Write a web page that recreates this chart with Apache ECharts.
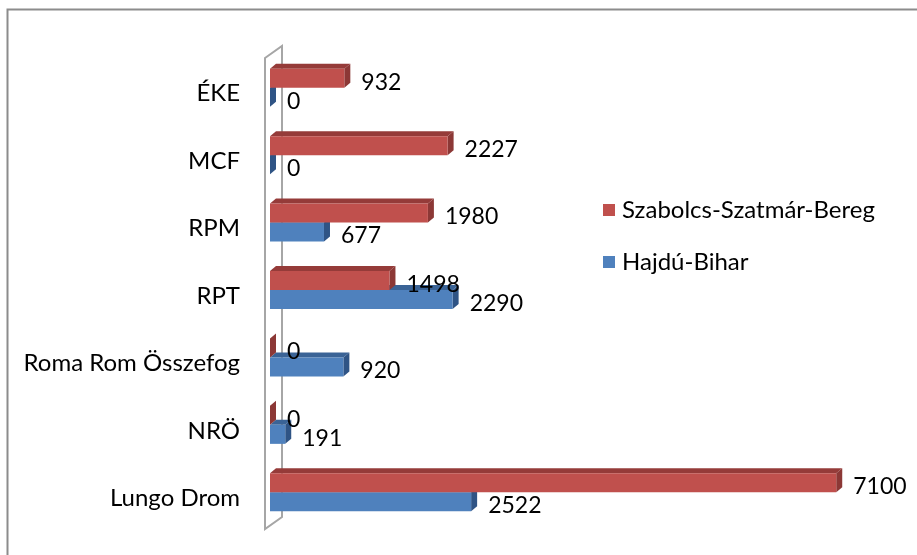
<!DOCTYPE html>
<html>
<head>
<meta charset="utf-8">
<script src="https://cdn.jsdelivr.net/npm/echarts@6/dist/echarts.min.js"></script>
<style>
  html, body { margin: 0; padding: 0; background: #fff; }
  #chart { width: 917px; height: 555px; }
</style>
</head>
<body>
<div id="chart"></div>
<script>
// categories, top to bottom
var categories = ['ÉKE', 'MCF', 'RPM', 'RPT', 'Roma Rom Összefog', 'NRÖ', 'Lungo Drom'];
var szabolcs = [932, 2227, 1980, 1498, 0, 0, 7100];
var hajdu = [0, 0, 677, 2290, 920, 191, 2522];
var seriesNames = ['Szabolcs-Szatmár-Bereg', 'Hajdú-Bihar'];

var chart = echarts.init(document.getElementById('chart'));

var BAR_H = 19, DX = 6, DY = -5;

// 3d-ish bar: front face + top face + side face + value label
function bar3d(upper, front, top, side) {
  return function (params, api) {
    var v = api.value(0);
    var idx = api.value(1);
    var end = api.coord([v, idx]);
    var start = api.coord([0, idx]);
    var y0 = upper ? end[1] - BAR_H : end[1];
    var y1 = y0 + BAR_H;
    var x0 = start[0], x1 = end[0];
    return {
      type: 'group',
      children: [
        { type: 'polygon', shape: { points: [[x0, y0], [x0 + DX, y0 + DY], [x1 + DX, y0 + DY], [x1, y0]] },
          style: { fill: top } },
        { type: 'polygon', shape: { points: [[x1, y0], [x1 + DX, y0 + DY], [x1 + DX, y1 + DY], [x1, y1]] },
          style: { fill: side } },
        { type: 'rect', shape: { x: x0, y: y0, width: x1 - x0, height: BAR_H },
          style: { fill: front } },
        { type: 'text', x: x1 + 17, y: (y0 + y1) / 2 + 4, z2: 10,
          style: { text: String(v), fill: '#000', font: '23px Lato', verticalAlign: 'middle', align: 'left' } }
      ]
    };
  };
}

function toData(arr) {
  return arr.map(function (v, i) { return [v, i]; });
}

var option = {
  animation: false,
  grid: { left: 270, right: 9, top: 54, bottom: 29, containLabel: false },
  legend: {
    orient: 'vertical',
    left: 598,
    top: 193,
    itemWidth: 12,
    itemHeight: 12,
    itemGap: 28,
    icon: 'rect',
    data: [seriesNames[0], seriesNames[1]],
    textStyle: { fontFamily: 'Lato', fontSize: 24, color: '#000', lineHeight: 24, padding: [0, 0, 0, 2] }
  },
  xAxis: {
    type: 'value',
    min: 0,
    max: 8000,
    show: false
  },
  yAxis: {
    type: 'category',
    data: categories,
    inverse: true,
    axisLine: { show: false },
    axisTick: { show: false },
    axisLabel: { margin: 30, fontFamily: 'Lato', fontSize: 24, color: '#000', verticalAlign: 'top', lineHeight: 12 }
  },
  graphic: [
    { type: 'rect', shape: { x: 7.5, y: 9.5, width: 940, height: 580 },
      style: { fill: 'none', stroke: '#8c8c8c', lineWidth: 2 }, silent: true },
    { type: 'polygon', shape: { points: [[265, 58], [282, 46], [282, 517], [265, 529]] },
      style: { fill: 'none', stroke: '#a6a6a6', lineWidth: 2 }, z: -1, silent: true }
  ],
  series: [
    {
      name: seriesNames[1],
      type: 'custom',
      itemStyle: { color: '#4F81BD' },
      renderItem: bar3d(false, '#4F81BD', '#3A6396', '#2F5485'),
      encode: { x: 0, y: 1 },
      data: toData(hajdu),
      z: 2
    },
    {
      name: seriesNames[0],
      type: 'custom',
      itemStyle: { color: '#C0504D' },
      renderItem: bar3d(true, '#C0504D', '#953B39', '#8C3836'),
      encode: { x: 0, y: 1 },
      data: toData(szabolcs),
      z: 3
    }
  ]
};

chart.setOption(option);
</script>
</body>
</html>
